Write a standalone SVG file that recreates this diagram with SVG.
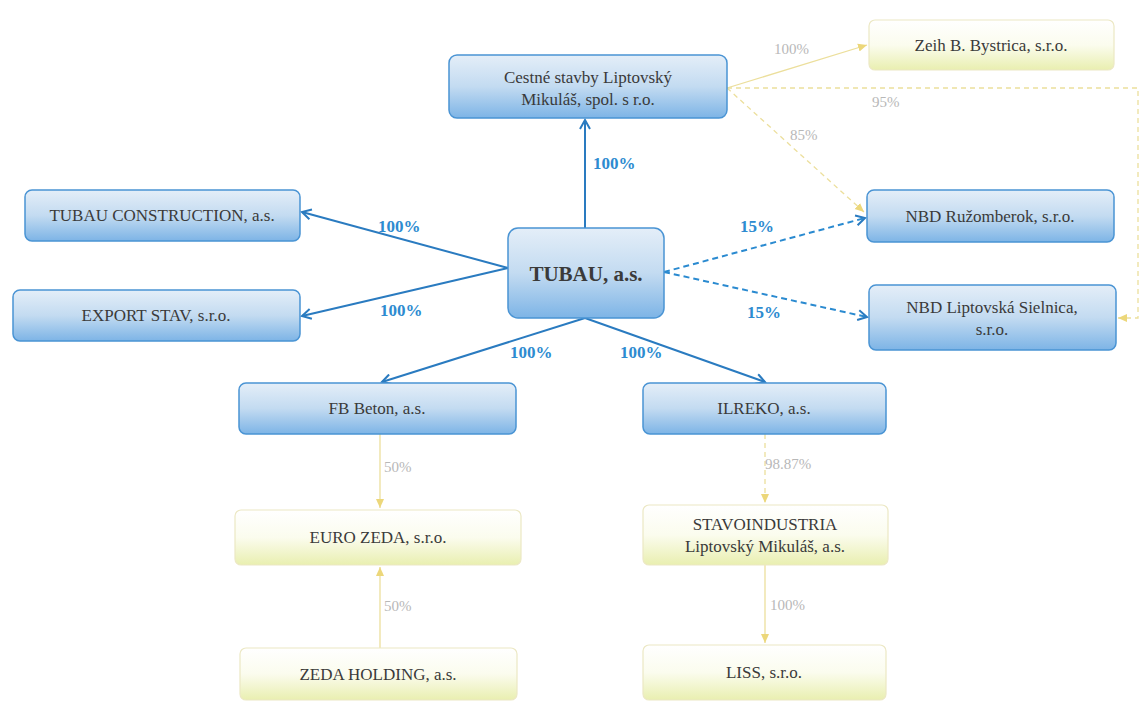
<svg xmlns="http://www.w3.org/2000/svg" width="1146" height="708" viewBox="0 0 1146 708">
<defs>
<linearGradient id="gb" x1="0" y1="0" x2="0" y2="1">
<stop offset="0" stop-color="#e4eef8"/><stop offset="0.5" stop-color="#c3dbf1"/><stop offset="1" stop-color="#7db4e6"/>
</linearGradient>
<linearGradient id="gy" x1="0" y1="0" x2="0" y2="1">
<stop offset="0" stop-color="#ffffff"/><stop offset="0.5" stop-color="#fbfcee"/><stop offset="1" stop-color="#e9efb0"/>
</linearGradient>
<marker id="ab" markerWidth="12" markerHeight="12" refX="10" refY="6" orient="auto" markerUnits="userSpaceOnUse">
<path d="M1,1 L10,6 L1,11" fill="none" stroke="#2a7bc0" stroke-width="2"/>
</marker>
<marker id="ay" markerWidth="10" markerHeight="10" refX="9" refY="5" orient="auto" markerUnits="userSpaceOnUse">
<path d="M0,1 L9,5 L0,9 Z" fill="#ecd77a"/>
</marker>
</defs>
<style>
.nb{fill:url(#gb);stroke:#4a94d4;stroke-width:1.5}
.ny{fill:url(#gy);stroke:#ece8c4;stroke-width:1.2}
.t{font-family:"Liberation Serif",serif;font-size:17px;fill:#3a3a3a;text-anchor:middle}
.lb{font-family:"Liberation Serif",serif;font-size:17px;font-weight:bold;fill:#2d8bd0}
.lg{font-family:"Liberation Serif",serif;font-size:15px;fill:#b8b8b8}
.cb{stroke:#2a7bc0;stroke-width:2;fill:none}
.cbd{stroke:#2a8ad0;stroke-width:2;fill:none;stroke-dasharray:6,4}
.cy{stroke:#ecdf9c;stroke-width:1.3;fill:none}
.cyd{stroke:#ecdf9c;stroke-width:1.3;fill:none;stroke-dasharray:5,4}
</style>
<rect width="1146" height="708" fill="#ffffff"/>
<g id="connectors">
<line class="cb" x1="585" y1="228" x2="585" y2="120" marker-end="url(#ab)"/>
<line class="cb" x1="508" y1="268" x2="302" y2="212" marker-end="url(#ab)"/>
<line class="cb" x1="508" y1="268" x2="302" y2="316" marker-end="url(#ab)"/>
<line class="cb" x1="585" y1="318" x2="382" y2="382" marker-end="url(#ab)"/>
<line class="cb" x1="585" y1="318" x2="765" y2="382" marker-end="url(#ab)"/>
<line class="cbd" x1="664" y1="272" x2="865" y2="218" marker-end="url(#ab)"/>
<line class="cbd" x1="664" y1="272" x2="867" y2="317" marker-end="url(#ab)"/>
<line class="cy" x1="727" y1="88" x2="867" y2="45" marker-end="url(#ay)"/>
<polyline class="cyd" points="727,88 1138,88 1138,318 1118,318" marker-end="url(#ay)"/>
<line class="cyd" x1="727" y1="88" x2="864" y2="212" marker-end="url(#ay)"/>
<line class="cy" x1="380" y1="434" x2="380" y2="508" marker-end="url(#ay)"/>
<line class="cy" x1="380" y1="648" x2="380" y2="567" marker-end="url(#ay)"/>
<line class="cyd" x1="765" y1="434" x2="765" y2="503" marker-end="url(#ay)"/>
<line class="cy" x1="765" y1="565" x2="765" y2="643" marker-end="url(#ay)"/>
<text class="lb" x="593" y="169">100%</text>
<text class="lb" x="378" y="232">100%</text>
<text class="lb" x="380" y="316">100%</text>
<text class="lb" x="510" y="358">100%</text>
<text class="lb" x="620" y="358">100%</text>
<text class="lb" x="740" y="232">15%</text>
<text class="lb" x="747" y="318">15%</text>
<text class="lg" x="774" y="54">100%</text>
<text class="lg" x="872" y="107">95%</text>
<text class="lg" x="790" y="140">85%</text>
<text class="lg" x="384" y="472">50%</text>
<text class="lg" x="384" y="611">50%</text>
<text class="lg" x="765" y="469">98.87%</text>
<text class="lg" x="770" y="610">100%</text>
</g>
<g id="n-cestne"><rect class="nb" x="449" y="55" width="278" height="63" rx="8"/><text class="t" x="588" y="83">Cestné stavby Liptovský</text><text class="t" x="588" y="105">Mikuláš, spol. s r.o.</text></g>
<g id="n-zeih"><rect class="ny" x="869" y="20" width="245" height="50" rx="6"/><text class="t" x="991" y="51">Zeih B. Bystrica, s.r.o.</text></g>
<g id="n-tubauc"><rect class="nb" x="25" y="190" width="275" height="51" rx="7"/><text class="t" x="162" y="221">TUBAU CONSTRUCTION, a.s.</text></g>
<g id="n-export"><rect class="nb" x="13" y="290" width="287" height="51" rx="7"/><text class="t" x="156" y="321">EXPORT STAV, s.r.o.</text></g>
<g id="n-tubau"><rect class="nb" x="508" y="228" width="156" height="90" rx="10"/><text class="t" x="586" y="281" style="font-size:21px;font-weight:bold">TUBAU, a.s.</text></g>
<g id="n-nbdr"><rect class="nb" x="867" y="190" width="247" height="52" rx="7"/><text class="t" x="990" y="222">NBD Ružomberok, s.r.o.</text></g>
<g id="n-nbdl"><rect class="nb" x="869" y="285" width="247" height="65" rx="7"/><text class="t" x="992" y="313">NBD Liptovská Sielnica,</text><text class="t" x="992" y="335">s.r.o.</text></g>
<g id="n-fb"><rect class="nb" x="239" y="383" width="277" height="51" rx="7"/><text class="t" x="377" y="414">FB Beton, a.s.</text></g>
<g id="n-ilreko"><rect class="nb" x="643" y="383" width="243" height="51" rx="7"/><text class="t" x="764" y="414">ILREKO, a.s.</text></g>
<g id="n-euro"><rect class="ny" x="235" y="510" width="286" height="55" rx="6"/><text class="t" x="378" y="543">EURO ZEDA, s.r.o.</text></g>
<g id="n-stavo"><rect class="ny" x="643" y="505" width="245" height="60" rx="6"/><text class="t" x="765" y="530">STAVOINDUSTRIA</text><text class="t" x="765" y="552">Liptovský Mikuláš, a.s.</text></g>
<g id="n-zeda"><rect class="ny" x="240" y="648" width="277" height="52" rx="6"/><text class="t" x="378" y="680">ZEDA HOLDING, a.s.</text></g>
<g id="n-liss"><rect class="ny" x="643" y="645" width="243" height="55" rx="6"/><text class="t" x="764" y="678">LISS, s.r.o.</text></g>
</svg>
